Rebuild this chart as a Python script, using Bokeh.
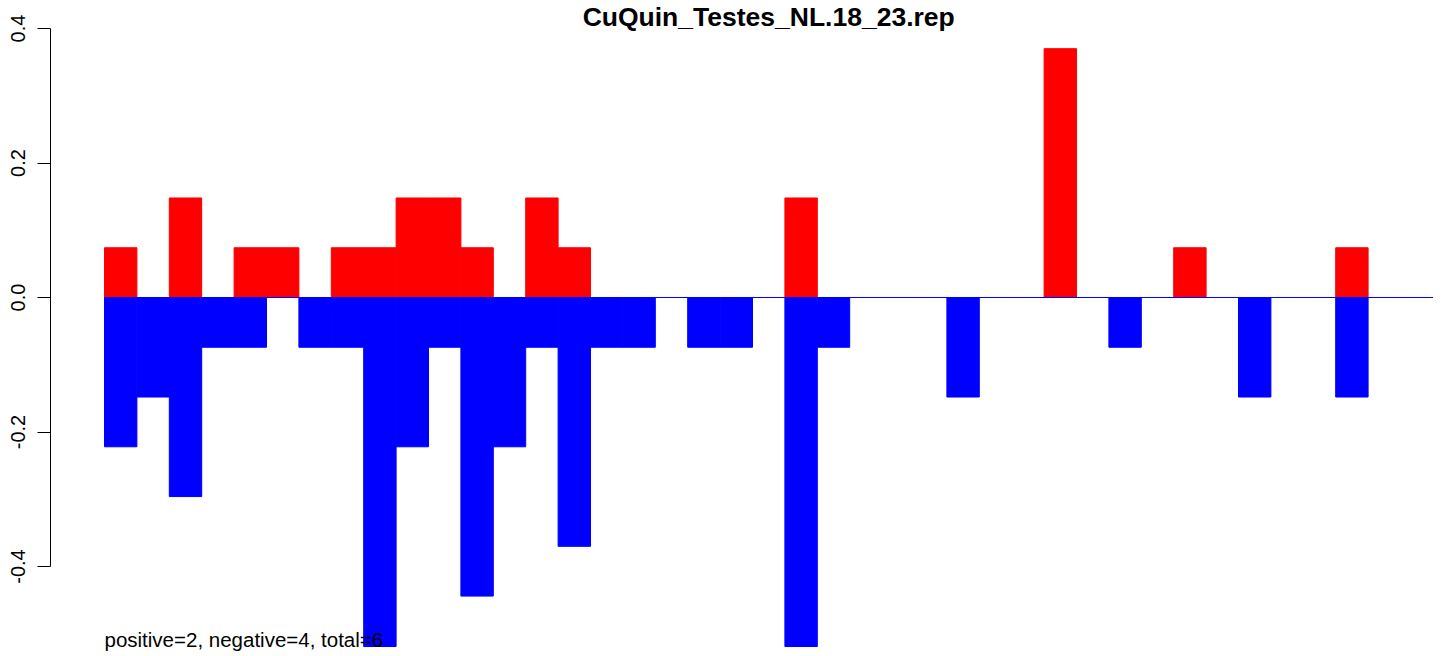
from bokeh.plotting import figure
from bokeh.models import ColumnDataSource, FixedTicker, NumeralTickFormatter, Label, Range1d
from bokeh.embed import file_html
from bokeh.resources import INLINE

title_text = "CuQuin_Testes_NL.18_23.rep"
summary_text = "positive=2, negative=4, total=6"

pos_values = [0.074, 0.0, 0.148, 0.0, 0.074, 0.074, 0.0, 0.074, 0.074, 0.148,
              0.148, 0.074, 0.0, 0.148, 0.074, 0.0, 0.0, 0.0, 0.0, 0.0,
              0.0, 0.148, 0.0, 0.0, 0.0, 0.0, 0.0, 0.0, 0.0, 0.370,
              0.0, 0.0, 0.0, 0.074, 0.0, 0.0, 0.0, 0.0, 0.074, 0.0, 0.0]
neg_values = [-0.222, -0.148, -0.296, -0.074, -0.074, 0.0, -0.074, -0.074, -0.519, -0.222,
              -0.074, -0.444, -0.222, -0.074, -0.370, -0.074, -0.074, 0.0, -0.074, -0.074,
              0.0, -0.519, -0.074, 0.0, 0.0, 0.0, -0.148, 0.0, 0.0, 0.0,
              0.0, -0.074, 0.0, 0.0, 0.0, -0.148, 0.0, 0.0, -0.148, 0.0, 0.0]
y_ticks = [-0.4, -0.2, 0.0, 0.2, 0.4]

n = len(pos_values)
centers = [i + 0.5 for i in range(n)]

W, H = 1444, 656
left_border = 50
px_per_unit = 32.4
first_bar_px = 104
x_start = -(first_bar_px - left_border) / px_per_unit
x_end = x_start + (W - left_border) / px_per_unit

zero_px = 297
py_per_unit = 672.5
y_end = zero_px / py_per_unit
y_start = -(H - zero_px) / py_per_unit

p = figure(width=W, height=H, output_backend="svg", toolbar_location=None,
           x_axis_location=None, x_range=Range1d(x_start, x_end),
           y_range=Range1d(y_start, y_end),
           min_border_left=left_border, min_border_right=0,
           min_border_top=0, min_border_bottom=0)
p.outline_line_color = None
p.xgrid.visible = False
p.ygrid.visible = False
p.background_fill_color = "white"
p.border_fill_color = "white"

src = ColumnDataSource(dict(x=centers, pos=pos_values, neg=neg_values))

p.segment(x0=[0], y0=[0], x1=[n], y1=[0], line_color="#7a7a7a", line_width=1.2)
p.vbar(x="x", width=1.0, top="pos", bottom=0, source=src,
       fill_color="#ff0000", line_color="#ff0000", line_width=1)
p.vbar(x="x", width=1.0, top=0, bottom="neg", source=src,
       fill_color="#0000ff", line_color="#0000ff", line_width=1)

ax = p.yaxis[0]
ax.ticker = FixedTicker(ticks=y_ticks)
ax.formatter = NumeralTickFormatter(format="0.0")
ax.bounds = (min(y_ticks), max(y_ticks))
ax.minor_tick_line_color = None
ax.major_tick_in = 0
ax.major_tick_out = 13
ax.major_tick_line_color = "black"
ax.axis_line_color = "black"
ax.major_label_orientation = "vertical"
ax.major_label_text_font = "Liberation Sans"
ax.major_label_text_font_size = "20px"
ax.major_label_text_color = "black"
ax.major_label_standoff = 13

p.add_layout(Label(x=n / 2, y=max(y_ticks), y_offset=12, text=title_text,
                   text_align="center", text_baseline="alphabetic",
                   text_font="Liberation Sans", text_font_style="bold",
                   text_font_size="26.5px", text_color="black"))
p.add_layout(Label(x=0, y=min(neg_values), y_offset=7, text=summary_text,
                   text_align="left", text_baseline="alphabetic",
                   text_font="Liberation Sans",
                   text_font_size="20.5px", text_color="black"))

open("out.html", "w").write(file_html(p, INLINE))
